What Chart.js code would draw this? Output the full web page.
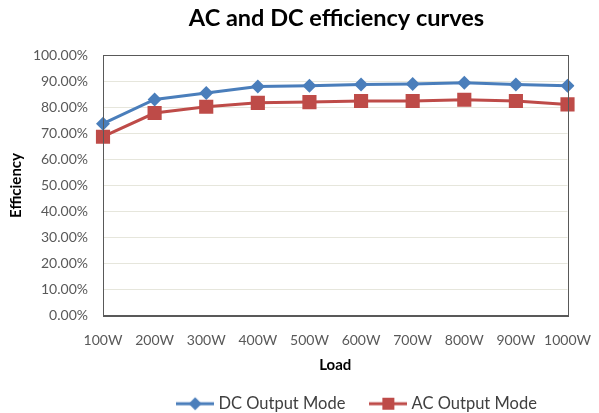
<!DOCTYPE html>
<html>
<head>
<meta charset="utf-8">
<script src="https://cdn.jsdelivr.net/npm/chart.js@4/dist/chart.umd.min.js"></script>
<style>
  html, body { margin: 0; padding: 0; background: #fff; }
  #wrap { width: 599px; height: 413px; }
</style>
</head>
<body>
<div id="wrap"><canvas id="c" width="599" height="413"></canvas></div>
<script>
// Load steps along the x axis
const loads = ['100W', '200W', '300W', '400W', '500W', '600W', '700W', '800W', '900W', '1000W'];
// Efficiency in percent for each output mode
const dcEfficiency = [73.7, 83.0, 85.5, 88.0, 88.3, 88.8, 88.9, 89.4, 88.8, 88.3];
const acEfficiency = [68.7, 77.8, 80.2, 81.7, 82.0, 82.4, 82.4, 82.9, 82.4, 81.1];
// Y axis range and step
const yTicks = { min: 0, max: 100, step: 10 };

const BLUE = '#4A7EBB';
const RED = '#BE4B48';
const FONT = 'Lato, "Open Sans", sans-serif';

// Legend swatch: short line with the series marker in the middle
function swatch(color, shape) {
  const cv = document.createElement('canvas');
  cv.width = 38; cv.height = 16;
  const g = cv.getContext('2d');
  g.strokeStyle = color; g.lineWidth = 3;
  g.beginPath(); g.moveTo(0, 8); g.lineTo(38, 8); g.stroke();
  g.fillStyle = color;
  if (shape === 'diamond') {
    g.beginPath(); g.moveTo(19, 1.5); g.lineTo(25.5, 8); g.lineTo(19, 14.5); g.lineTo(12.5, 8); g.closePath(); g.fill();
  } else {
    g.fillRect(13, 2, 12, 12);
  }
  return cv;
}

// Frame around the plotting area
const frame = {
  id: 'frame',
  afterDraw(chart) {
    const a = chart.chartArea, g = chart.ctx;
    g.save();
    g.strokeStyle = '#595959'; g.lineWidth = 1;
    g.strokeRect(Math.round(a.left) + 0.5, Math.round(a.top) + 0.5, Math.round(a.right - a.left), Math.round(a.bottom - a.top));
    g.restore();
  }
};

// Title and legend row sit a little right of the canvas centre
const blockShift = {
  id: 'blockShift',
  afterLayout(chart) {
    if (chart.legend) { chart.legend.left += 69; chart.legend.right += 69; }
    if (chart.titleBlock) { chart.titleBlock.left += 47; chart.titleBlock.right += 47; }
  }
};

new Chart(document.getElementById('c'), {
  type: 'line',
  data: {
    labels: loads,
    datasets: [
      {
        label: 'DC Output Mode',
        data: dcEfficiency,
        borderColor: BLUE, backgroundColor: BLUE,
        borderWidth: 3,
        pointStyle: 'rectRot', pointRadius: 7, pointHoverRadius: 7,
        pointBorderWidth: 0
      },
      {
        label: 'AC Output Mode',
        data: acEfficiency,
        borderColor: RED, backgroundColor: RED,
        borderWidth: 3,
        pointStyle: 'rect', pointRadius: 10, pointHoverRadius: 10,
        pointBorderWidth: 0
      }
    ]
  },
  options: {
    responsive: false,
    animation: false,
    devicePixelRatio: 1,
    layout: { padding: { left: 4, right: 24, top: 0, bottom: -9 } },
    plugins: {
      title: {
        display: true,
        text: 'AC and DC efficiency curves',
        color: '#000',
        font: { family: FONT, size: 23.5, weight: 'bold' },
        padding: { top: 4, bottom: 23 }
      },
      legend: {
        position: 'bottom',
        labels: {
          color: '#404040',
          font: { family: FONT, size: 16.5 },
          usePointStyle: true,
          pointStyleWidth: 30,
          padding: 28,
          generateLabels(chart) {
            return chart.data.datasets.map((ds, i) => ({
              text: ds.label,
              fontColor: '#404040',
              pointStyle: swatch(ds.borderColor, i === 0 ? 'diamond' : 'square'),
              datasetIndex: i,
              hidden: false,
              lineWidth: 0,
              strokeStyle: 'transparent',
              fillStyle: 'transparent'
            }));
          }
        }
      },
      tooltip: { enabled: false }
    },
    scales: {
      x: {
        offset: false,
        grid: { display: false },
        border: { color: '#595959' },
        ticks: { color: '#595959', font: { family: FONT, size: 14 }, maxRotation: 0, autoSkip: false, padding: 8 },
        title: { display: true, text: 'Load', color: '#000', font: { family: FONT, size: 15, weight: 'bold' }, padding: { top: 0, bottom: -7 } }
      },
      y: {
        min: yTicks.min, max: yTicks.max,
        grid: { color: '#E6E6DC', drawTicks: false },
        border: { color: '#595959' },
        ticks: {
          stepSize: yTicks.step,
          color: '#595959',
          font: { family: FONT, size: 14 },
          padding: 15,
          callback: v => v.toFixed(2) + '%'
        },
        title: { display: true, text: 'Efficiency', color: '#000', font: { family: FONT, size: 15, weight: 'bold' }, padding: { top: 3, bottom: 4 } },
        afterFit(scale) { scale.width = 99; }
      }
    }
  },
  plugins: [frame, blockShift]
});
</script>
</body>
</html>
